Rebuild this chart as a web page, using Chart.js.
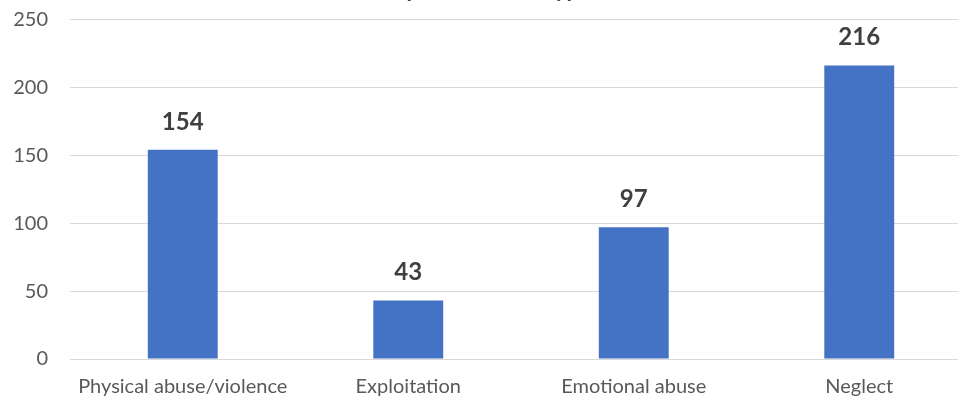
<!DOCTYPE html>
<html>
<head>
<meta charset="utf-8">
<script src="https://cdn.jsdelivr.net/npm/chart.js@4"></script>
<style>
  html, body { margin: 0; padding: 0; background: #fff; overflow: hidden; }
  #wrap { position: absolute; left: 0; top: -30px; width: 972px; height: 437px; }
</style>
</head>
<body>
<div id="wrap"><canvas id="abuseChart"></canvas></div>
<script>
// Datos del gráfico
const categories = ['Physical abuse/violence', 'Exploitation', 'Emotional abuse', 'Neglect'];
const reportCounts = [154, 43, 97, 216];
const yTicks = [0, 50, 100, 150, 200, 250];
const chartTitle = 'Report on abuse type';

const fontFamily = 'Lato, "Open Sans", sans-serif';

// Etiquetas encima de cada barra
const valueLabels = {
    id: 'valueLabels',
    afterDatasetsDraw(chart) {
        const ctx = chart.ctx;
        const meta = chart.getDatasetMeta(0);
        ctx.save();
        ctx.font = 'bold 24px ' + fontFamily;
        ctx.fillStyle = '#404040';
        ctx.textAlign = 'center';
        ctx.textBaseline = 'middle';
        meta.data.forEach((bar, i) => {
            ctx.fillText(reportCounts[i], bar.x, bar.y - 28);
        });
        ctx.restore();
    }
};

const ctxChart = document.getElementById('abuseChart').getContext('2d');

const abuseChart = new Chart(ctxChart, {
    type: 'bar',
    data: {
        labels: categories,
        datasets: [{
            data: reportCounts,
            backgroundColor: '#4472C4',
            barPercentage: 0.31,
            categoryPercentage: 1
        }]
    },
    options: {
        responsive: true,
        maintainAspectRatio: false,
        animation: false,
        layout: { padding: { left: 0, right: 0, top: 0, bottom: 0 } },
        scales: {
            x: {
                grid: { display: false },
                border: { display: false },
                ticks: { color: '#595959', font: { family: fontFamily, size: 20 }, padding: 8, maxRotation: 0 }
            },
            y: {
                min: 0,
                max: 250,
                afterBuildTicks(axis) {
                    axis.ticks = yTicks.map(v => ({ value: v }));
                },
                afterFit(axis) {
                    axis.width = 70;
                },
                grid: { color: '#d9d9d9', lineWidth: 1, drawTicks: false },
                border: { display: false },
                ticks: { color: '#595959', font: { family: fontFamily, size: 20 }, padding: 22 }
            }
        },
        plugins: {
            legend: { display: false },
            tooltip: { enabled: false },
            title: {
                display: true,
                text: chartTitle,
                color: '#404040',
                font: { family: fontFamily, size: 22, weight: 'bold' },
                padding: { top: 7, bottom: 16 }
            }
        }
    },
    plugins: [valueLabels]
});
</script>
</body>
</html>
